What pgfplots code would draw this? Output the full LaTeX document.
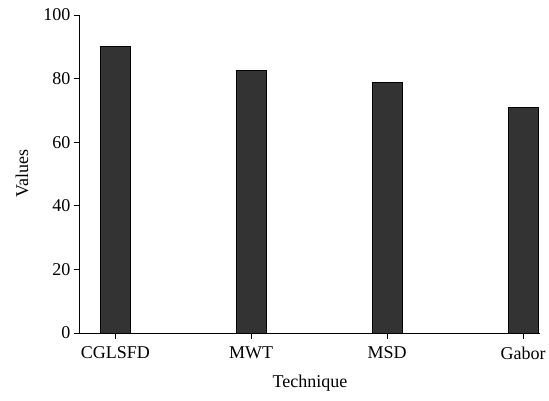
\documentclass[border=0pt]{standalone}
\usepackage{fontspec}
\setmainfont{Liberation Serif}
\usepackage{pgfplots}
\pgfplotsset{compat=1.18}
\begin{document}
\begin{tikzpicture}
\begin{axis}[
  scale only axis,
  width=460pt, height=318pt,
  xmin=-0.26, xmax=3.125,
  ymin=0, ymax=100,
  axis x line*=bottom, axis y line*=left,
  axis line style={-, line width=1pt},
  ytick={0,20,40,60,80,100},
  xtick={0,1,2,3},
  xticklabels={CGLSFD,MWT,MSD,Gabor},
  tick pos=left,
  tick align=outside,
  major tick length=6pt,
  xtick style={draw=none},
  ytick style={draw=black, line width=1pt},
  /pgf/number format/assume math mode=true,
  tick label style={font=\fontsize{18}{20}\selectfont},
  xticklabel style={yshift=-4pt},
  label style={font=\fontsize{18}{20}\selectfont},
  xlabel={Technique},
  ylabel={Values},
  xlabel style={at={(axis description cs:0.5,-0.157)}, anchor=center},
  ylabel style={at={(axis description cs:-0.126,0.5)}, anchor=center, rotate=0},
  clip=false,
]
\addplot[ybar, bar width=30pt, fill=black!80, draw=black, line width=1pt] coordinates {
  (0,90.1) (1,82.7) (2,78.8) (3,70.9)
};
\foreach \t in {0,1,2,3}{
  \edef\tmp{\noexpand\draw[line width=1pt, black] (axis cs:\t,0) -- ([yshift=-6pt]axis cs:\t,0);}
  \tmp
}
\end{axis}
\pgfresetboundingbox
\path (-80pt,-67pt) rectangle (469pt,333pt);
\end{tikzpicture}
\end{document}
